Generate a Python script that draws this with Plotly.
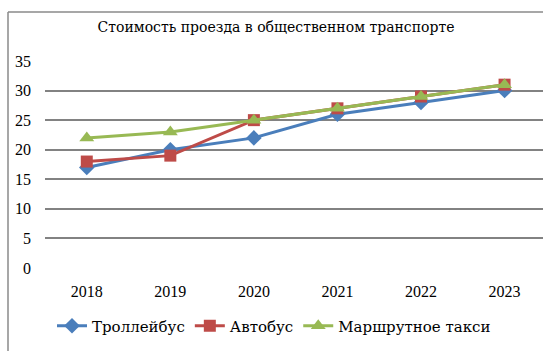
import plotly.graph_objects as go

years = ["2018", "2019", "2020", "2021", "2022", "2023"]
trolleybus = [17, 20, 22, 26, 28, 30]
bus = [18, 19, 25, 27, 29, 31]
minibus_taxi = [22, 23, 25, 27, 29, 31]
y_ticks = [0, 5, 10, 15, 20, 25, 30, 35]

W, H = 543, 351
L, R, T, B = 45, 0, 61, 83
plot_h = H - T - B
plot_w = W - L - R

serif = "Liberation Serif, DejaVu Serif, serif"
cyr_serif = "DejaVu Serif, serif"

fig = go.Figure()
fig.add_trace(go.Scatter(
    x=years, y=trolleybus, name="Троллейбус", mode="lines+markers",
    line=dict(color="#4A7EBB", width=3),
    marker=dict(symbol="diamond", size=12, color="#4A7EBB"),
))
fig.add_trace(go.Scatter(
    x=years, y=bus, name="Автобус", mode="lines+markers",
    line=dict(color="#BE4B48", width=3),
    marker=dict(symbol="square", size=12, color="#BE4B48"),
))
fig.add_trace(go.Scatter(
    x=years, y=minibus_taxi, name="Маршрутное такси", mode="lines+markers",
    line=dict(color="#98B954", width=3),
    marker=dict(symbol="triangle-up", size=13, color="#98B954"),
))

def px_x(x):
    return (x - L) / plot_w

def px_y(y):
    return (H - B - y) / plot_h

# chart frame (left and top edges)
frame = dict(color="#8a8a8a", width=1.5)
fig.add_shape(type="line", xref="paper", yref="paper",
              x0=px_x(8), x1=px_x(8), y0=px_y(12), y1=px_y(H + 5), line=frame)
fig.add_shape(type="line", xref="paper", yref="paper",
              x0=px_x(8), x1=px_x(W + 5), y0=px_y(12), y1=px_y(12), line=frame)

fig.update_layout(
    width=W, height=H,
    margin=dict(l=L, r=R, t=T, b=B),
    paper_bgcolor="white", plot_bgcolor="white",
    font=dict(family=serif, size=16, color="#000000"),
    title=dict(text="Стоимость проезда в общественном транспорте",
               x=276 / W, xanchor="center", xref="container",
               y=1 - 27 / H, yanchor="middle", yref="container",
               font=dict(family=cyr_serif, size=14, color="#000000")),
    xaxis=dict(type="category", range=[-0.5, 5.46], showgrid=False,
               showline=False, zeroline=False, ticks="", ticklabelstandoff=12,
               tickfont=dict(family=serif, size=16)),
    yaxis=dict(range=[0, 35], tickvals=y_ticks, showgrid=True,
               gridcolor="#828282", gridwidth=1.6, zeroline=False,
               showline=False, ticks="", ticklabelstandoff=13,
               tickfont=dict(family=serif, size=16)),
    showlegend=True,
    legend=dict(orientation="h", x=px_x(274), xanchor="center",
                y=px_y(326), yanchor="middle",
                font=dict(family=cyr_serif, size=15),
                itemwidth=30, tracegroupgap=0,
                bgcolor="rgba(0,0,0,0)"),
)

fig.write_html("out.html")
